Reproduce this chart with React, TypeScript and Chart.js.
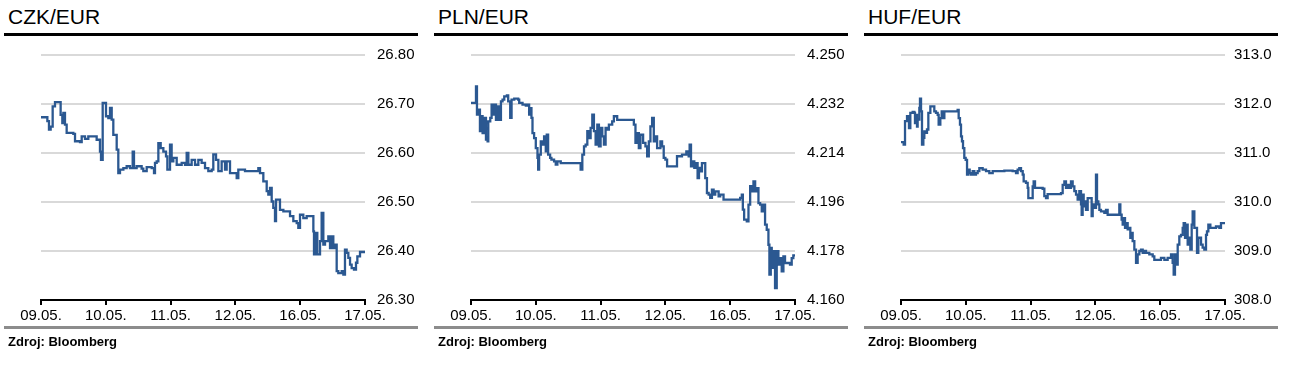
import React, { useEffect, useRef } from "react";
import { Chart, registerables } from "chart.js";

Chart.register(...registerables);

const dates = ["09.05.", "10.05.", "11.05.", "12.05.", "16.05.", "17.05."];
const dayIdx = [0, 1, 2, 3, 4, 5];

const titles = ["CZK/EUR", "PLN/EUR", "HUF/EUR"];
const sourceText = "Zdroj: Bloomberg";

const czkTicks = [26.3, 26.4, 26.5, 26.6, 26.7, 26.8];
const plnTicks = [4.16, 4.178, 4.196, 4.214, 4.232, 4.25];
const hufTicks = [308, 309, 310, 311, 312, 313];

const czkX = [0.000, 0.077, 0.098, 0.123, 0.149, 0.180, 0.216, 0.283, 0.303, 0.329, 0.345, 0.370, 0.396, 0.499, 0.525, 0.602, 0.628, 0.679, 0.730, 0.859, 0.910, 0.926, 0.952, 0.988, 1.003, 1.039, 1.065, 1.091, 1.116, 1.142, 1.168, 1.193, 1.219, 1.271, 1.322, 1.373, 1.415, 1.435, 1.476, 1.553, 1.579, 1.631, 1.708, 1.744, 1.759, 1.785, 1.811, 1.847, 1.888, 1.929, 1.950, 1.991, 2.016, 2.042, 2.094, 2.171, 2.222, 2.248, 2.274, 2.325, 2.377, 2.428, 2.479, 2.531, 2.582, 2.634, 2.659, 2.701, 2.737, 2.788, 2.840, 2.865, 2.917, 2.968, 3.020, 3.045, 3.148, 3.302, 3.354, 3.380, 3.431, 3.483, 3.508, 3.534, 3.560, 3.585, 3.611, 3.627, 3.663, 3.688, 3.740, 3.791, 3.843, 3.894, 3.946, 3.971, 3.997, 4.048, 4.100, 4.177, 4.203, 4.213, 4.244, 4.264, 4.306, 4.331, 4.357, 4.383, 4.434, 4.460, 4.486, 4.511, 4.537, 4.563, 4.588, 4.640, 4.666, 4.691, 4.717, 4.743, 4.769, 4.794, 4.830, 4.861, 4.882, 4.923, 5.000];
const czkY = [26.673, 26.673, 26.665, 26.648, 26.654, 26.695, 26.704, 26.704, 26.678, 26.661, 26.682, 26.658, 26.641, 26.639, 26.624, 26.622, 26.634, 26.629, 26.634, 26.627, 26.603, 26.586, 26.702, 26.702, 26.675, 26.671, 26.692, 26.668, 26.637, 26.637, 26.607, 26.559, 26.566, 26.569, 26.573, 26.569, 26.603, 26.569, 26.573, 26.568, 26.563, 26.571, 26.569, 26.559, 26.580, 26.583, 26.620, 26.610, 26.603, 26.593, 26.566, 26.617, 26.583, 26.590, 26.576, 26.580, 26.576, 26.600, 26.576, 26.586, 26.576, 26.586, 26.580, 26.569, 26.563, 26.566, 26.597, 26.586, 26.563, 26.583, 26.566, 26.583, 26.559, 26.559, 26.549, 26.566, 26.563, 26.563, 26.569, 26.559, 26.542, 26.522, 26.515, 26.529, 26.501, 26.488, 26.461, 26.505, 26.505, 26.484, 26.481, 26.481, 26.471, 26.461, 26.457, 26.447, 26.474, 26.467, 26.471, 26.471, 26.440, 26.393, 26.437, 26.393, 26.420, 26.478, 26.413, 26.420, 26.430, 26.406, 26.430, 26.406, 26.413, 26.359, 26.355, 26.359, 26.352, 26.403, 26.396, 26.386, 26.372, 26.365, 26.362, 26.376, 26.389, 26.398, 26.399];

const plnX = [0.000, 0.062, 0.077, 0.092, 0.113, 0.138, 0.164, 0.179, 0.205, 0.231, 0.256, 0.267, 0.297, 0.318, 0.344, 0.359, 0.385, 0.410, 0.436, 0.462, 0.487, 0.513, 0.554, 0.574, 0.605, 0.626, 0.667, 0.728, 0.744, 0.795, 0.846, 0.872, 0.897, 0.923, 0.933, 0.949, 0.974, 1.000, 1.026, 1.036, 1.051, 1.077, 1.103, 1.128, 1.154, 1.169, 1.190, 1.221, 1.241, 1.282, 1.308, 1.333, 1.385, 1.590, 1.667, 1.692, 1.718, 1.744, 1.769, 1.795, 1.821, 1.846, 1.872, 1.897, 1.923, 1.949, 1.974, 2.000, 2.026, 2.051, 2.077, 2.103, 2.128, 2.179, 2.205, 2.256, 2.487, 2.513, 2.538, 2.564, 2.590, 2.615, 2.656, 2.692, 2.718, 2.744, 2.769, 2.795, 2.821, 2.846, 2.872, 2.923, 2.949, 2.974, 3.000, 3.026, 3.154, 3.179, 3.256, 3.323, 3.359, 3.374, 3.395, 3.421, 3.446, 3.477, 3.497, 3.518, 3.538, 3.564, 3.590, 3.615, 3.641, 3.667, 3.692, 3.718, 3.744, 3.769, 3.821, 3.846, 3.897, 4.154, 4.179, 4.195, 4.215, 4.256, 4.282, 4.308, 4.333, 4.359, 4.385, 4.410, 4.436, 4.462, 4.487, 4.513, 4.538, 4.564, 4.590, 4.605, 4.626, 4.641, 4.667, 4.692, 4.718, 4.744, 4.769, 4.795, 4.821, 4.846, 4.923, 4.949, 4.974, 5.000];
const plnY = [4.2324, 4.2324, 4.2385, 4.2281, 4.2299, 4.2220, 4.2275, 4.2213, 4.2269, 4.2189, 4.2183, 4.2256, 4.2269, 4.2318, 4.2281, 4.2318, 4.2262, 4.2311, 4.2262, 4.2330, 4.2336, 4.2348, 4.2352, 4.2330, 4.2269, 4.2336, 4.2340, 4.2336, 4.2324, 4.2318, 4.2314, 4.2318, 4.2281, 4.2305, 4.2269, 4.2213, 4.2195, 4.2158, 4.2122, 4.2079, 4.2134, 4.2183, 4.2171, 4.2201, 4.2146, 4.2207, 4.2134, 4.2122, 4.2116, 4.2109, 4.2097, 4.2109, 4.2103, 4.2103, 4.2103, 4.2079, 4.2134, 4.2164, 4.2171, 4.2220, 4.2195, 4.2232, 4.2281, 4.2220, 4.2171, 4.2244, 4.2164, 4.2232, 4.2201, 4.2171, 4.2232, 4.2226, 4.2244, 4.2256, 4.2275, 4.2262, 4.2262, 4.2244, 4.2177, 4.2213, 4.2158, 4.2207, 4.2177, 4.2164, 4.2128, 4.2183, 4.2238, 4.2269, 4.2183, 4.2201, 4.2158, 4.2183, 4.2164, 4.2122, 4.2116, 4.2091, 4.2091, 4.2128, 4.2134, 4.2146, 4.2128, 4.2171, 4.2091, 4.2109, 4.2085, 4.2103, 4.2048, 4.2085, 4.2073, 4.2103, 4.2103, 4.2048, 4.1993, 4.1987, 4.1975, 4.2005, 4.1987, 4.1999, 4.1981, 4.1987, 4.1969, 4.1975, 4.1987, 4.1932, 4.1895, 4.1889, 4.1950, 4.2018, 4.1999, 4.2036, 4.1999, 4.2011, 4.1956, 4.1950, 4.1926, 4.1950, 4.1877, 4.1858, 4.1803, 4.1693, 4.1791, 4.1718, 4.1779, 4.1644, 4.1779, 4.1730, 4.1754, 4.1705, 4.1760, 4.1736, 4.1730, 4.1754, 4.1764, 4.1767];

const hufX = [0.000, 0.041, 0.051, 0.062, 0.093, 0.113, 0.123, 0.144, 0.180, 0.206, 0.216, 0.231, 0.247, 0.257, 0.283, 0.293, 0.309, 0.324, 0.345, 0.360, 0.386, 0.401, 0.422, 0.453, 0.489, 0.514, 0.540, 0.566, 0.581, 0.607, 0.628, 0.658, 0.669, 0.720, 0.797, 0.849, 0.874, 0.890, 0.910, 0.926, 0.941, 0.957, 0.977, 0.998, 1.019, 1.039, 1.060, 1.080, 1.106, 1.132, 1.157, 1.183, 1.209, 1.235, 1.260, 1.312, 1.363, 1.415, 1.492, 1.595, 1.723, 1.775, 1.800, 1.826, 1.852, 1.878, 1.893, 1.929, 1.955, 1.965, 2.006, 2.032, 2.047, 2.068, 2.109, 2.186, 2.212, 2.238, 2.263, 2.315, 2.418, 2.469, 2.495, 2.521, 2.546, 2.572, 2.598, 2.623, 2.649, 2.675, 2.701, 2.726, 2.752, 2.778, 2.788, 2.803, 2.819, 2.840, 2.855, 2.881, 2.932, 2.942, 2.958, 2.984, 3.009, 3.025, 3.045, 3.061, 3.086, 3.138, 3.164, 3.189, 3.241, 3.344, 3.369, 3.385, 3.405, 3.421, 3.436, 3.457, 3.477, 3.498, 3.524, 3.539, 3.560, 3.575, 3.601, 3.627, 3.652, 3.678, 3.704, 3.730, 3.755, 3.781, 3.807, 3.832, 3.884, 3.909, 3.961, 4.012, 4.064, 4.115, 4.167, 4.192, 4.208, 4.228, 4.244, 4.270, 4.295, 4.321, 4.347, 4.362, 4.383, 4.398, 4.424, 4.450, 4.465, 4.486, 4.501, 4.527, 4.552, 4.568, 4.588, 4.630, 4.655, 4.681, 4.707, 4.722, 4.743, 4.774, 4.810, 4.861, 4.913, 4.938, 4.964, 5.000];
const hufY = [311.22, 311.17, 311.17, 311.65, 311.75, 311.71, 311.51, 311.82, 311.84, 311.82, 311.61, 311.78, 311.54, 311.68, 311.92, 312.11, 311.85, 311.17, 311.31, 311.44, 311.41, 311.48, 311.82, 311.95, 311.95, 311.85, 311.82, 311.78, 311.58, 311.71, 311.85, 311.71, 311.85, 311.85, 311.85, 311.85, 311.88, 311.71, 311.58, 311.34, 311.24, 311.10, 310.90, 310.86, 310.56, 310.66, 310.59, 310.56, 310.63, 310.56, 310.59, 310.63, 310.69, 310.69, 310.66, 310.63, 310.59, 310.63, 310.63, 310.64, 310.63, 310.59, 310.66, 310.69, 310.63, 310.56, 310.42, 310.39, 310.29, 310.08, 310.08, 310.32, 310.42, 310.29, 310.29, 310.27, 310.12, 310.08, 310.16, 310.16, 310.16, 310.18, 310.35, 310.42, 310.29, 310.35, 310.29, 310.42, 310.32, 310.22, 310.15, 310.05, 310.22, 309.95, 309.74, 310.15, 309.91, 310.01, 309.84, 310.08, 310.08, 309.71, 309.95, 309.88, 310.56, 310.01, 309.95, 309.84, 309.81, 309.78, 309.84, 309.74, 309.74, 309.74, 309.95, 309.74, 309.64, 309.54, 309.67, 309.47, 309.57, 309.44, 309.47, 309.27, 309.37, 309.20, 309.03, 308.76, 308.93, 309.00, 309.03, 308.96, 309.00, 308.96, 308.96, 308.93, 308.89, 308.82, 308.82, 308.86, 308.82, 308.86, 308.93, 308.76, 308.52, 308.93, 308.72, 309.13, 309.30, 309.33, 309.47, 309.57, 309.27, 309.54, 309.13, 309.27, 309.03, 309.54, 309.81, 309.47, 309.47, 308.96, 309.27, 309.13, 309.07, 309.03, 309.33, 309.40, 309.54, 309.47, 309.47, 309.50, 309.47, 309.57, 309.57, 309.59];

const FONT = "'Liberation Sans', Arial, Helvetica, sans-serif";
const LINE_COLOR = "#2b5891";
const PANEL_W = 430;
const CANVAS_H = 330;
const CHART_LEFT = 41;
const CHART_RIGHT = 365;
const CHART_TOP = 55;
const CHART_BOTTOM = 300;
const Y_AXIS_W = 55;
const X_AXIS_H = 25;

type PanelProps = {
  index: number;
  xs: number[];
  ys: number[];
  ticks: number[];
  decimals: number;
  labelPad: number;
};

function Panel({ index, xs, ys, ticks, decimals, labelPad }: PanelProps) {
  const ref = useRef<HTMLCanvasElement | null>(null);

  useEffect(() => {
    if (!ref.current) return;
    const points = xs.map((x, i) => ({ x, y: ys[i] }));
    const chart = new Chart(ref.current, {
      type: "line",
      data: {
        datasets: [
          {
            data: points,
            borderColor: LINE_COLOR,
            borderWidth: 2.3,
            pointRadius: 0,
            tension: 0,
            stepped: true,
            fill: false,
          },
        ],
      },
      options: {
        responsive: false,
        animation: false,
        events: [],
        layout: {
          padding: {
            left: CHART_LEFT,
            right: PANEL_W - CHART_RIGHT - Y_AXIS_W,
            top: CHART_TOP,
            bottom: CANVAS_H - CHART_BOTTOM - X_AXIS_H,
          },
        },
        plugins: {
          legend: { display: false },
          tooltip: { enabled: false },
          title: { display: false },
        },
        scales: {
          x: {
            type: "linear",
            min: dayIdx[0],
            max: dayIdx[dayIdx.length - 1],
            afterBuildTicks: (scale: any) => {
              scale.ticks = dayIdx.map((v) => ({ value: v }));
            },
            afterFit: (scale: any) => {
              scale.height = X_AXIS_H;
            },
            grid: {
              display: true,
              drawOnChartArea: false,
              drawTicks: true,
              tickLength: 5,
              color: "#000",
              lineWidth: 2,
            },
            border: { display: true, color: "#000", width: 2 },
            ticks: {
              autoSkip: false,
              maxRotation: 0,
              padding: 2,
              color: "#000",
              font: { family: FONT, size: 15 },
              callback: (v: any) => dates[Math.round(Number(v))],
            },
          },
          y: {
            type: "linear",
            position: "right",
            min: ticks[0],
            max: ticks[ticks.length - 1],
            afterBuildTicks: (scale: any) => {
              scale.ticks = ticks.map((v) => ({ value: v }));
            },
            afterFit: (scale: any) => {
              scale.width = Y_AXIS_W;
            },
            grid: {
              drawTicks: false,
              lineWidth: 2,
              color: (c: any) => (c.index === 0 ? "rgba(0,0,0,0)" : "#d9d9d9"),
            },
            border: { display: false },
            ticks: {
              padding: labelPad,
              color: "#000",
              font: { family: FONT, size: 15 },
              callback: (v: any) => Number(v).toFixed(decimals),
            },
          },
        },
      },
    });
    return () => chart.destroy();
  }, [xs, ys, ticks, decimals, labelPad]);

  const left = index * PANEL_W;
  return (
    <div style={{ position: "absolute", left, top: 0, width: PANEL_W, height: 368 }}>
      <div
        style={{
          position: "absolute",
          left: 8,
          top: 6,
          fontSize: 21,
          lineHeight: "21px",
          fontFamily: FONT,
          color: "#000",
          whiteSpace: "nowrap",
        }}
      >
        {titles[index]}
      </div>
      <div style={{ position: "absolute", left: 4, top: 33, width: 414, height: 3, background: "#000" }} />
      <canvas
        ref={ref}
        width={PANEL_W}
        height={CANVAS_H}
        style={{ position: "absolute", left: 0, top: 0, width: PANEL_W, height: CANVAS_H }}
      />
      <div style={{ position: "absolute", left: 4, top: 326, width: 414, height: 3, background: "#8c8c8c" }} />
      <div
        style={{
          position: "absolute",
          left: 8,
          top: 335,
          fontSize: 13,
          lineHeight: "13px",
          fontWeight: "bold",
          fontFamily: FONT,
          color: "#000",
          whiteSpace: "nowrap",
        }}
      >
        {sourceText}
      </div>
    </div>
  );
}

export default function App() {
  return (
    <div
      style={{
        position: "absolute",
        left: 0,
        top: 0,
        width: 1291,
        height: 368,
        background: "#fff",
        overflow: "hidden",
      }}
    >
      <Panel index={0} xs={czkX} ys={czkY} ticks={czkTicks} decimals={2} labelPad={12} />
      <Panel index={1} xs={plnX} ys={plnY} ticks={plnTicks} decimals={3} labelPad={12} />
      <Panel index={2} xs={hufX} ys={hufY} ticks={hufTicks} decimals={1} labelPad={9} />
    </div>
  );
}
